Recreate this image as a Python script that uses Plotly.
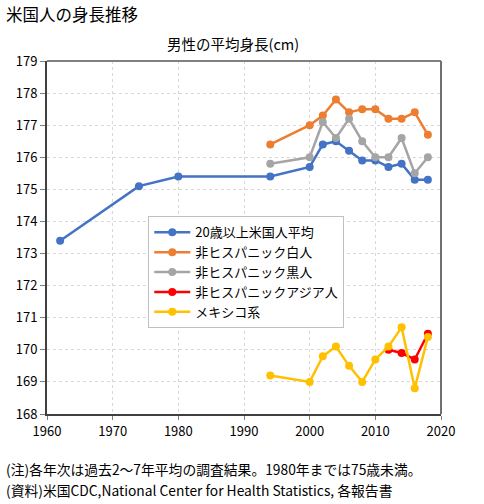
import plotly.graph_objects as go

# 男性の平均身長(cm)
years_all = [1962, 1974, 1980, 1994, 2000, 2002, 2004, 2006, 2008, 2010, 2012, 2014, 2016, 2018]
avg_us = [173.4, 175.1, 175.4, 175.4, 175.7, 176.4, 176.5, 176.2, 175.9, 175.9, 175.7, 175.8, 175.3, 175.3]

years_eth = [1994, 2000, 2002, 2004, 2006, 2008, 2010, 2012, 2014, 2016, 2018]
white = [176.4, 177.0, 177.3, 177.8, 177.4, 177.5, 177.5, 177.2, 177.2, 177.4, 176.7]
black = [175.8, 176.0, 177.1, 176.6, 177.2, 176.5, 176.0, 176.0, 176.6, 175.5, 176.0]
mexican = [169.2, 169.0, 169.8, 170.1, 169.5, 169.0, 169.7, 170.1, 170.7, 168.8, 170.4]

years_asian = [2012, 2014, 2016, 2018]
asian = [170.0, 169.9, 169.7, 170.5]

series = [
    ("20歳以上米国人平均", years_all, avg_us, "#4472C4"),
    ("非ヒスパニック白人", years_eth, white, "#ED7D31"),
    ("非ヒスパニック黒人", years_eth, black, "#A5A5A5"),
    ("非ヒスパニックアジア人", years_asian, asian, "#FF0000"),
    ("メキシコ系", years_eth, mexican, "#FFC000"),
]

font = "Noto Sans CJK JP"

fig = go.Figure()
for name, xs, ys, col in series:
    fig.add_trace(go.Scatter(
        x=xs, y=ys, name=name, mode="lines+markers",
        line=dict(color=col, width=2.5),
        marker=dict(color=col, size=8),
    ))

fig.update_layout(
    width=484, height=504,
    margin=dict(l=47, r=43, t=61, b=90),
    plot_bgcolor="white", paper_bgcolor="white",
    font=dict(family=font, size=12, color="black"),
    showlegend=True,
    legend=dict(
        x=0.257, y=0.56, xanchor="left", yanchor="top",
        bordercolor="#c0c0c0", borderwidth=1, bgcolor="white",
        font=dict(size=13), tracegroupgap=0, itemwidth=36,
    ),
)

fig.update_xaxes(
    range=[1960, 2020], dtick=10, tick0=1960,
    showgrid=True, gridcolor="#d8d8d8", griddash="dot", gridwidth=1,
    showline=True, linecolor="#404040", linewidth=2,
    ticks="outside", ticklen=4, tickcolor="#808080",
    tickfont=dict(size=13), zeroline=False,
)
fig.update_yaxes(
    range=[168, 179], dtick=1,
    showgrid=True, gridcolor="#d8d8d8", griddash="dot", gridwidth=1,
    showline=True, linecolor="#404040", linewidth=2,
    ticks="outside", ticklen=5, tickcolor="#808080",
    tickfont=dict(size=13), zeroline=False,
)

# top and right frame
fig.add_shape(type="line", xref="paper", yref="paper", x0=0, x1=1, y0=1, y1=1,
              line=dict(color="#808080", width=2))
fig.add_shape(type="line", xref="paper", yref="paper", x0=1, x1=1, y0=0, y1=1,
              line=dict(color="#707070", width=2))

fig.add_annotation(text="米国人の身長推移", xref="paper", yref="paper",
                   x=-0.11, y=1.133, xanchor="left", yanchor="middle",
                   showarrow=False, font=dict(size=16.5))
fig.add_annotation(text="男性の平均身長(cm)", xref="paper", yref="paper",
                   x=0.472, y=1.05, xanchor="center", yanchor="middle",
                   showarrow=False, font=dict(size=14.5))
fig.add_annotation(text="(注)各年次は過去2～7年平均の調査結果。1980年までは75歳未満。",
                   xref="paper", yref="paper", x=-0.11, y=-0.155,
                   xanchor="left", yanchor="middle", showarrow=False,
                   font=dict(size=13.8))
fig.add_annotation(text="(資料)米国CDC,National Center for Health Statistics, 各報告書",
                   xref="paper", yref="paper", x=-0.11, y=-0.214,
                   xanchor="left", yanchor="middle", showarrow=False,
                   font=dict(size=13.8))

# drop the default page margin so the figure sits at the window corner
fig.write_html("out.html", config={"displayModeBar": False},
               post_script="document.body.style.margin='0';")
